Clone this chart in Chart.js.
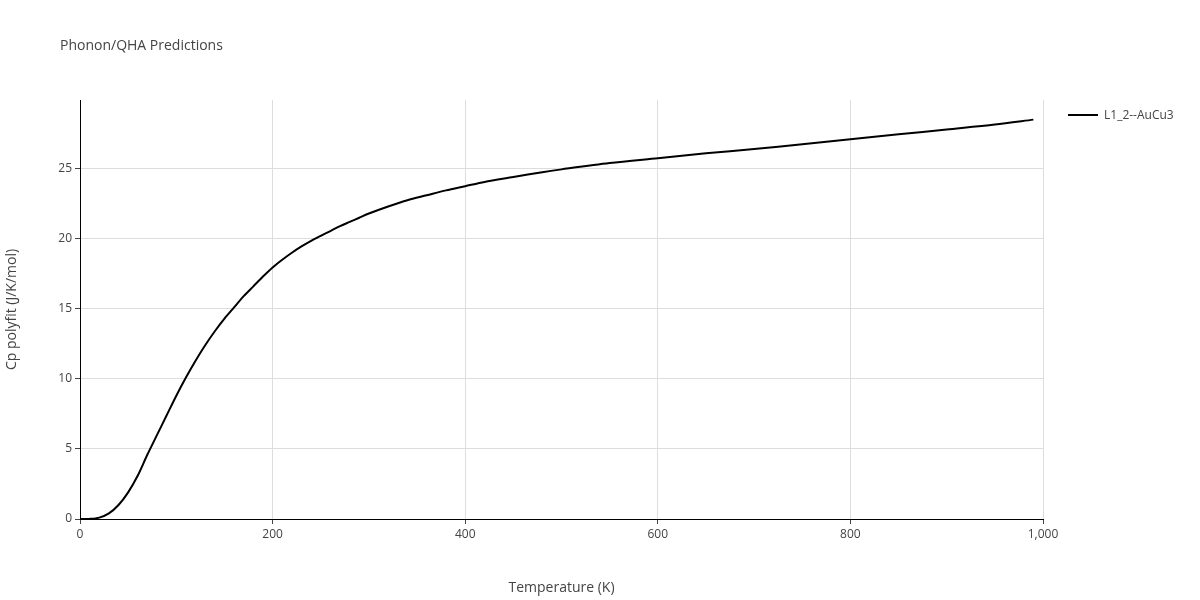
<!DOCTYPE html>
<html>
<head>
<meta charset="utf-8">
<script src="https://cdn.jsdelivr.net/npm/chart.js@4/dist/chart.umd.min.js"></script>
<style>
  body { margin: 0; background: #fff; font-family: "Open Sans", sans-serif; }
  #wrap { position: relative; width: 1200px; height: 600px; }
  #title { position: absolute; left: 60px; top: 35px; font-size: 14px; color: #444; }
  #legend { position: absolute; left: 1068px; top: 106px; font-size: 12px; color: #444; display: flex; align-items: center; }
  #legend span.ln { display: inline-block; width: 30px; height: 2px; background: #000; margin-right: 6px; }
</style>
</head>
<body>
<div id="wrap">
  <canvas id="myChart" width="1200" height="600"></canvas>
  <div id="title">Phonon/QHA Predictions</div>
  <div id="legend"><span class="ln"></span>L1_2--AuCu3</div>
</div>
<script>
var temps = [0,10,20,30,40,50,60,70,80,90,100,110,120,130,140,150,160,170,180,190,200,210,220,230,240,250,260,270,280,290,300,320,340,360,380,400,420,450,480,500,550,600,650,700,750,800,850,900,950,990];
var cp = [0,0.01,0.1,0.4,1.0,1.9,3.1,4.6,6.0,7.4,8.8,10.1,11.3,12.4,13.4,14.3,15.1,15.9,16.6,17.3,17.95,18.5,19.0,19.45,19.85,20.2,20.55,20.9,21.2,21.5,21.8,22.3,22.75,23.1,23.45,23.75,24.05,24.4,24.75,24.95,25.4,25.75,26.1,26.4,26.75,27.1,27.45,27.8,28.15,28.5];
var xTicks = [0,200,400,600,800,1000];
var yTicks = [0,5,10,15,20,25];

var points = temps.map(function(t, i) { return {x: t, y: cp[i]}; });
var tickFont = {family: "Open Sans", size: 12};

new Chart("myChart", {
  type: "line",
  data: {
    datasets: [{
      label: "L1_2--AuCu3",
      data: points,
      borderColor: "#000",
      borderWidth: 2,
      pointRadius: 0,
      tension: 0.3,
      fill: false
    }]
  },
  options: {
    responsive: false,
    animation: false,
    layout: {padding: {top: 100, right: 157, left: 0, bottom: 0}},
    plugins: {legend: {display: false}, title: {display: false}, tooltip: {enabled: false}},
    scales: {
      x: {
        type: "linear", min: 0, max: 1000,
        afterBuildTicks: function(s) { s.ticks = xTicks.map(function(v) { return {value: v}; }); },
        afterFit: function(s) { s.height = 81; },
        grid: {color: "#ddd", tickLength: 5, tickColor: "#444"},
        border: {color: "#000"},
        ticks: {color: "#444", font: tickFont},
        title: {display: true, text: "Temperature (K)", color: "#444", font: {family: "Open Sans", size: 14}}
      },
      y: {
        min: 0, max: 29.9,
        afterBuildTicks: function(s) { s.ticks = yTicks.map(function(v) { return {value: v}; }); },
        afterFit: function(s) { s.width = 80; },
        grid: {color: "#ddd", tickLength: 5, tickColor: "#444"},
        border: {color: "#000"},
        ticks: {color: "#444", font: tickFont},
        title: {display: true, text: "Cp polyfit (J/K/mol)", color: "#444", font: {family: "Open Sans", size: 14}}
      }
    }
  }
});
</script>
</body>
</html>
